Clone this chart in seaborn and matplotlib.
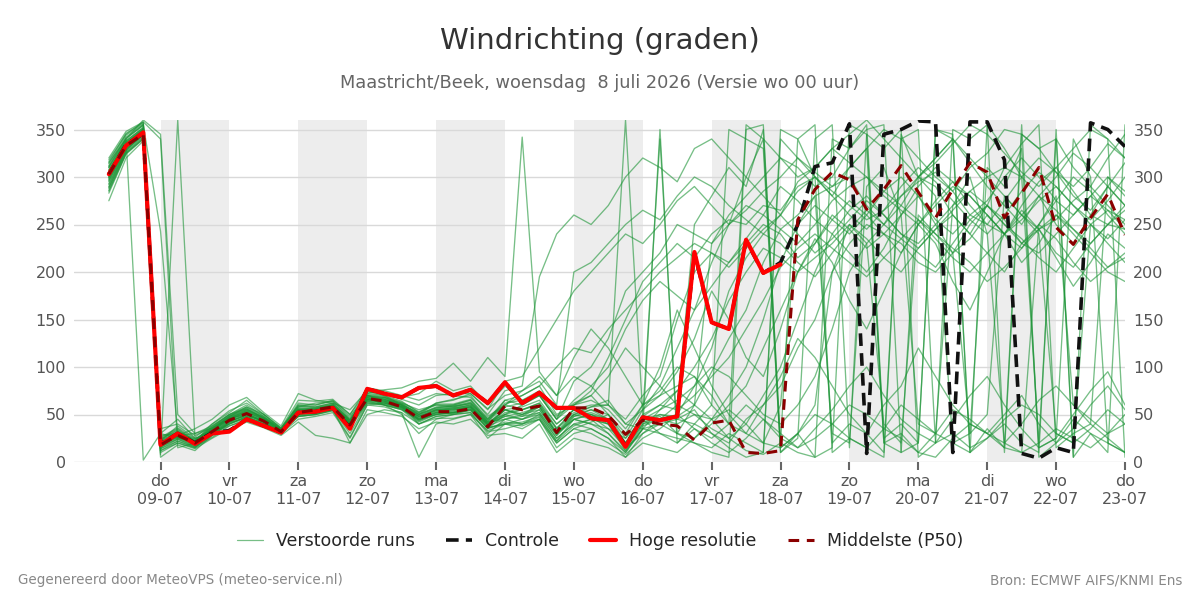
import matplotlib
matplotlib.use("Agg")
import matplotlib.pyplot as plt
from matplotlib.lines import Line2D
import pandas as pd
import seaborn as sns

# time axis: 6-hourly steps from wo 08-07 06 uur
start = "2026-07-08 06:00"
n_steps = 60

# Hoge resolutie (runs until 18-07 00 uur)
hoge_resolutie = [303, 333, 347, 18, 30, 19, 30, 32, 45, 38, 31, 52, 53, 57, 35, 77,
                  72, 68, 78, 80, 70, 76, 62, 84, 62, 73, 57, 57, 46, 44, 16, 47,
                  44, 48, 221, 147, 140, 234, 199, 208]

# Controle run
controle = [303, 334, 346, 19, 30, 20, 31, 33, 45, 38, 31, 52, 53, 57, 36, 77,
            72, 68, 78, 80, 70, 76, 62, 84, 62, 73, 57, 57, 46, 44, 17, 47,
            44, 48, 220, 147, 140, 233, 199, 210, 250, 311, 315, 356, 9, 345,
            350, 359, 358, 10, 358, 358, 318, 9, 4, 15, 10, 357, 350, 332]

# Middelste (P50)
p50 = [303, 333, 345, 18, 28, 20, 32, 44, 51, 43, 32, 52, 55, 58, 39, 67,
       64, 58, 46, 53, 53, 56, 37, 59, 55, 59, 31, 57, 57, 49, 29, 44,
       40, 38, 23, 41, 44, 10, 9, 12, 255, 287, 305, 297, 266, 287, 312, 284,
       257, 287, 315, 305, 257, 283, 310, 247, 229, 257, 282, 239]

# Verstoorde runs (perturbed ensemble members)
member_01 = [310, 338, 352, 25, 35, 22, 38, 50, 60, 48, 35, 60, 58, 62, 45, 70, 68, 62, 55, 60, 58, 62, 45,
             60, 55, 62, 40, 55, 50, 42, 20, 45, 50, 48, 60, 95, 130, 160, 210, 245, 260, 280, 290,
             300, 270, 250, 280, 300, 290, 260, 240, 270, 310, 300, 280, 250, 230, 260, 290, 270]
member_02 = [295, 330, 345, 12, 22, 15, 28, 40, 48, 40, 30, 55, 52, 55, 30, 62, 60, 55, 40, 48, 50, 52, 30,
             45, 40, 50, 25, 40, 45, 30, 10, 35, 30, 25, 20, 15, 30, 20, 10, 350, 340, 355, 10,
             25, 15, 5, 340, 350, 20, 30, 15, 25, 40, 20, 10, 350, 5, 30, 20, 10]
member_03 = [318, 345, 358, 340, 15, 20, 35, 48, 55, 46, 33, 48, 50, 55, 38, 72, 70, 60, 50, 58, 60, 65, 42,
             65, 70, 80, 50, 60, 75, 110, 150, 190, 210, 230, 215, 240, 255, 250, 270, 265, 290, 300, 285,
             270, 255, 265, 280, 295, 305, 285, 260, 250, 240, 270, 295, 310, 285, 260, 250, 265]
member_04 = [300, 335, 350, 30, 45, 25, 30, 38, 45, 38, 30, 45, 48, 52, 25, 60, 58, 52, 5, 40, 45, 50, 25,
             40, 35, 45, 15, 30, 35, 25, 5, 30, 40, 45, 55, 30, 20, 45, 60, 80, 120, 150, 200,
             230, 250, 240, 260, 280, 250, 220, 235, 260, 240, 210, 230, 260, 240, 220, 200, 190]
member_05 = [285, 325, 340, 8, 360, 26, 40, 52, 65, 50, 35, 62, 60, 65, 50, 78, 75, 70, 65, 72, 70, 68, 50,
             75, 80, 195, 240, 260, 250, 270, 300, 320, 310, 295, 330, 340, 320, 300, 280, 260, 295, 310, 330,
             315, 300, 285, 270, 300, 320, 340, 315, 290, 270, 250, 280, 300, 325, 310, 290, 270]
member_06 = [305, 340, 2, 30, 25, 18, 33, 45, 52, 42, 30, 52, 56, 60, 42, 66, 62, 58, 48, 55, 55, 58, 38,
             55, 48, 58, 30, 50, 58, 60, 45, 70, 90, 150, 200, 220, 210, 230, 250, 240, 215, 230, 260,
             245, 225, 240, 230, 210, 200, 220, 250, 270, 255, 230, 245, 220, 205, 230, 250, 245]
member_07 = [312, 342, 355, 243, 30, 22, 35, 46, 50, 44, 34, 55, 54, 57, 40, 68, 60, 50, 30, 45, 50, 55, 40,
             50, 60, 70, 45, 85, 100, 130, 180, 200, 220, 250, 240, 230, 260, 280, 300, 320, 310, 290, 300,
             330, 350, 355, 10, 20, 350, 340, 320, 300, 310, 335, 355, 15, 30, 40, 25, 10]
member_08 = [298, 332, 348, 15, 28, 35, 45, 60, 68, 52, 38, 72, 65, 62, 55, 75, 72, 68, 72, 85, 75, 80, 60,
             80, 65, 75, 55, 60, 70, 50, 30, 60, 70, 80, 90, 70, 40, 30, 60, 90, 130, 110, 80,
             50, 30, 60, 80, 120, 90, 60, 40, 30, 50, 70, 40, 20, 35, 60, 80, 55]
member_09 = [290, 328, 345, 10, 20, 14, 25, 35, 42, 36, 28, 42, 28, 25, 20, 55, 52, 48, 35, 42, 40, 45, 28,
             30, 25, 40, 10, 25, 20, 15, 5, 20, 15, 10, 25, 40, 60, 80, 120, 160, 200, 215, 230,
             250, 235, 215, 200, 225, 245, 260, 240, 220, 200, 230, 250, 235, 210, 190, 205, 220]
member_10 = [315, 340, 360, 345, 50, 30, 38, 50, 58, 50, 36, 58, 62, 64, 48, 70, 65, 60, 52, 62, 65, 72, 55,
             85, 90, 120, 150, 180, 200, 220, 240, 230, 250, 275, 290, 270, 250, 265, 285, 300, 320, 305, 290,
             310, 330, 350, 340, 320, 300, 285, 310, 325, 350, 345, 330, 305, 290, 310, 335, 320]
member_11 = [275, 320, 338, 20, 32, 20, 35, 46, 54, 45, 33, 50, 54, 58, 42, 64, 60, 55, 45, 50, 52, 54, 35,
             50, 45, 52, 28, 45, 50, 40, 15, 40, 45, 40, 50, 45, 25, 12, 8, 20, 10, 5, 15,
             355, 345, 20, 30, 10, 5, 25, 40, 30, 15, 10, 20, 35, 25, 15, 30, 40]
member_12 = [308, 336, 350, 22, 38, 25, 30, 40, 46, 40, 32, 55, 57, 60, 35, 72, 76, 78, 85, 88, 104, 85, 110,
             90, 342, 95, 70, 90, 80, 60, 40, 35, 55, 75, 60, 45, 70, 100, 150, 210, 250, 270, 255,
             240, 260, 285, 300, 280, 255, 240, 260, 275, 300, 320, 300, 275, 260, 280, 300, 285]
member_13 = [302, 334, 347, 5, 18, 12, 28, 42, 50, 42, 30, 50, 52, 56, 40, 65, 63, 58, 45, 52, 55, 58, 42,
             45, 50, 55, 30, 45, 40, 35, 15, 30, 45, 60, 50, 35, 25, 40, 70, 100, 150, 200, 240,
             265, 280, 260, 240, 230, 250, 270, 285, 300, 280, 260, 245, 255, 275, 290, 270, 250]
member_14 = [296, 330, 344, 35, 40, 28, 36, 45, 52, 45, 34, 58, 58, 62, 44, 70, 66, 60, 48, 55, 57, 60, 40,
             55, 50, 60, 35, 55, 60, 60, 360, 50, 340, 30, 60, 230, 250, 270, 260, 245, 230, 250, 275,
             290, 300, 280, 265, 250, 270, 290, 280, 260, 240, 225, 250, 275, 300, 285, 260, 240]
member_15 = [320, 348, 358, 18, 26, 18, 32, 44, 48, 40, 30, 48, 50, 54, 36, 62, 60, 56, 42, 50, 52, 55, 36,
             40, 45, 50, 25, 40, 35, 25, 10, 35, 40, 30, 25, 45, 55, 40, 20, 15, 30, 50, 40,
             25, 15, 35, 60, 45, 30, 20, 10, 25, 45, 60, 50, 30, 20, 35, 55, 40]
member_16 = [288, 326, 342, 16, 24, 16, 26, 38, 44, 40, 32, 52, 54, 56, 20, 50, 55, 52, 40, 48, 50, 52, 32,
             35, 40, 45, 20, 35, 30, 20, 8, 25, 35, 50, 80, 120, 180, 215, 240, 230, 210, 195, 220,
             245, 265, 250, 235, 220, 205, 230, 255, 270, 250, 235, 215, 200, 225, 250, 265, 255]
member_17 = [306, 338, 352, 24, 34, 22, 34, 48, 58, 48, 34, 60, 60, 64, 46, 74, 70, 64, 52, 60, 60, 65, 45,
             65, 60, 70, 45, 60, 65, 55, 35, 60, 75, 100, 90, 60, 40, 355, 340, 320, 300, 310, 330,
             345, 360, 340, 320, 300, 315, 335, 355, 345, 325, 305, 290, 310, 330, 350, 340, 320]
member_18 = [293, 328, 346, 12, 20, 15, 30, 42, 46, 42, 31, 50, 53, 57, 38, 66, 68, 60, 40, 46, 46, 50, 33,
             40, 42, 48, 22, 45, 50, 45, 20, 50, 60, 55, 70, 90, 110, 140, 170, 205, 225, 240, 225,
             210, 195, 215, 235, 255, 240, 225, 210, 190, 205, 225, 245, 260, 245, 225, 205, 215]
member_19 = [310, 340, 355, 28, 30, 22, 40, 54, 62, 50, 36, 65, 64, 66, 50, 74, 72, 66, 60, 70, 72, 72, 56,
             70, 75, 85, 60, 200, 210, 230, 250, 265, 255, 280, 300, 290, 270, 255, 240, 260, 285, 300, 280,
             260, 245, 265, 290, 310, 295, 275, 255, 240, 260, 285, 305, 290, 270, 255, 275, 300]
member_20 = [300, 333, 348, 18, 26, 20, 30, 40, 48, 44, 32, 48, 50, 54, 26, 60, 62, 58, 46, 52, 52, 56, 36,
             40, 38, 45, 20, 35, 42, 50, 25, 45, 30, 20, 35, 20, 10, 25, 45, 30, 15, 25, 40,
             60, 50, 35, 25, 10, 30, 55, 45, 30, 20, 40, 65, 80, 60, 45, 30, 50]
member_21 = [283, 324, 340, 22, 28, 30, 36, 50, 56, 46, 34, 56, 54, 60, 44, 68, 64, 58, 50, 62, 66, 70, 48,
             60, 70, 80, 100, 120, 115, 140, 160, 180, 200, 215, 230, 220, 205, 225, 245, 260, 240, 220, 235,
             255, 275, 260, 240, 225, 245, 265, 285, 270, 250, 230, 220, 240, 260, 280, 265, 245]
member_22 = [314, 344, 356, 14, 22, 16, 30, 44, 50, 42, 32, 52, 55, 58, 40, 68, 66, 60, 44, 50, 52, 56, 38,
             45, 48, 52, 28, 48, 55, 50, 20, 45, 55, 65, 80, 100, 90, 70, 50, 40, 60, 90, 140,
             200, 230, 250, 270, 255, 235, 215, 200, 220, 240, 260, 280, 265, 245, 230, 250, 270]
member_23 = [304, 336, 350, 20, 30, 20, 32, 46, 54, 46, 34, 56, 56, 60, 42, 70, 68, 62, 50, 56, 58, 62, 42,
             50, 55, 60, 35, 50, 45, 40, 15, 40, 50, 45, 40, 60, 350, 340, 330, 10, 25, 340, 355,
             15, 345, 330, 350, 5, 20, 350, 340, 355, 10, 345, 330, 340, 5, 355, 340, 5]
member_24 = [297, 331, 347, 26, 36, 24, 34, 46, 50, 44, 33, 54, 55, 58, 40, 66, 64, 58, 46, 54, 56, 58, 40,
             55, 50, 58, 32, 50, 55, 45, 18, 48, 60, 75, 100, 130, 170, 200, 225, 215, 200, 230, 255,
             275, 260, 240, 220, 250, 275, 295, 280, 260, 240, 255, 275, 290, 270, 250, 235, 255]
member_25 = [300, 334, 350, 20, 28, 18, 30, 42, 50, 42, 32, 50, 52, 56, 38, 64, 62, 56, 44, 52, 54, 58, 40,
             48, 52, 58, 30, 45, 40, 30, 12, 35, 350, 20, 40, 30, 15, 5, 10, 340, 320, 300, 20,
             40, 30, 10, 345, 300, 280, 20, 30, 310, 290, 330, 15, 25, 340, 300, 20, 10]
member_26 = [292, 329, 344, 16, 25, 22, 34, 47, 55, 47, 33, 57, 56, 59, 43, 69, 66, 61, 49, 57, 59, 63, 44,
             60, 75, 90, 70, 110, 140, 120, 90, 60, 100, 160, 120, 80, 50, 30, 20, 60, 250, 280, 30,
             20, 290, 310, 260, 40, 30, 270, 300, 240, 20, 10, 250, 280, 60, 40, 300, 280]
member_27 = [311, 341, 354, 22, 32, 24, 36, 48, 56, 46, 34, 54, 55, 59, 41, 67, 64, 59, 47, 54, 56, 60, 41,
             55, 58, 65, 40, 55, 48, 35, 25, 55, 80, 120, 160, 210, 250, 300, 340, 10, 30, 60, 200,
             250, 230, 40, 20, 260, 240, 220, 30, 50, 280, 260, 240, 30, 20, 250, 230, 210]
member_28 = [289, 327, 343, 14, 24, 17, 29, 41, 47, 41, 31, 49, 51, 55, 37, 63, 61, 57, 43, 51, 51, 55, 35,
             42, 40, 47, 22, 38, 45, 40, 12, 38, 45, 50, 35, 25, 40, 60, 45, 25, 15, 35, 55,
             80, 100, 70, 45, 30, 20, 45, 70, 90, 60, 35, 15, 25, 50, 75, 95, 60]
member_29 = [316, 346, 357, 24, 33, 21, 37, 49, 57, 47, 35, 59, 57, 61, 44, 71, 69, 63, 53, 61, 61, 66, 46,
             62, 65, 72, 48, 62, 70, 90, 120, 100, 80, 60, 250, 280, 310, 290, 350, 20, 340, 300, 280,
             310, 330, 20, 10, 300, 320, 340, 10, 355, 330, 300, 20, 340, 310, 290, 320, 345]
member_30 = [299, 333, 349, 21, 29, 19, 31, 43, 49, 43, 32, 51, 54, 57, 39, 65, 63, 57, 45, 53, 53, 57, 39,
             52, 55, 62, 36, 52, 58, 65, 40, 55, 70, 95, 130, 180, 150, 110, 90, 140, 200, 235, 210,
             170, 140, 180, 220, 250, 230, 190, 160, 200, 240, 265, 245, 215, 185, 210, 240, 225]
member_31 = [286, 325, 341, 18, 27, 21, 33, 45, 53, 44, 33, 53, 53, 58, 41, 66, 65, 59, 48, 55, 57, 59, 40,
             48, 45, 55, 30, 48, 52, 45, 20, 42, 48, 30, 20, 10, 5, 350, 355, 15, 30, 5, 340,
             330, 355, 25, 40, 20, 350, 345, 10, 35, 15, 355, 5, 20, 45, 30, 10, 355]
member_32 = [307, 337, 351, 23, 31, 23, 35, 47, 53, 45, 33, 55, 55, 59, 43, 69, 67, 61, 51, 57, 59, 61, 43,
             58, 62, 70, 45, 65, 80, 100, 140, 170, 190, 175, 160, 185, 210, 235, 260, 290, 275, 255, 240,
             220, 200, 225, 260, 290, 310, 295, 270, 250, 275, 300, 320, 305, 280, 265, 290, 315]

members = [member_01, member_02, member_03, member_04, member_05, member_06, member_07, member_08,
           member_09, member_10, member_11, member_12, member_13, member_14, member_15, member_16,
           member_17, member_18, member_19, member_20, member_21, member_22, member_23, member_24,
           member_25, member_26, member_27, member_28, member_29, member_30, member_31, member_32]

# labels
day_names = ["do", "vr", "za", "zo", "ma", "di", "wo", "do", "vr", "za", "zo", "ma", "di", "wo", "do"]
day_dates = ["09-07", "10-07", "11-07", "12-07", "13-07", "14-07", "15-07", "16-07",
             "17-07", "18-07", "19-07", "20-07", "21-07", "22-07", "23-07"]
y_ticks = [0, 50, 100, 150, 200, 250, 300, 350]

times = pd.date_range(start, periods=n_steps, freq="6h")

rows = []
for k, m in enumerate(members):
    for t, v in zip(times, m):
        rows.append({"tijd": t, "graden": v, "run": k})
ens = pd.DataFrame(rows)
hr = pd.DataFrame({"tijd": times[:len(hoge_resolutie)], "graden": hoge_resolutie})
ctl = pd.DataFrame({"tijd": times[:len(controle)], "graden": controle})
med = pd.DataFrame({"tijd": times[:len(p50)], "graden": p50})

sns.set_style("white")
plt.rcParams["font.family"] = ["DejaVu Sans"]

fig = plt.figure(figsize=(12, 6), dpi=100)
ax = fig.add_axes([0.062, 0.23, 0.8755, 0.57])

# shaded every other day
day_ts = pd.to_datetime([f"2026-{d[3:]}-{d[:2]}" for d in day_dates])
for d in day_ts[::2][:-1]:
    ax.axvspan(d, d + pd.Timedelta(days=1), color="#ededed", lw=0, zorder=0)

green = "#1c9436"
sns.lineplot(data=ens, x="tijd", y="graden", units="run", estimator=None,
             color=green, lw=0.95, alpha=0.6, ax=ax, zorder=2)
sns.lineplot(data=ctl, x="tijd", y="graden", color="#111111", lw=2.6, ax=ax, zorder=3)
ax.lines[-1].set_linestyle((0, (3.5, 2)))
sns.lineplot(data=hr, x="tijd", y="graden", color="#ff0000", lw=3, ax=ax, zorder=4)
sns.lineplot(data=med, x="tijd", y="graden", color="#8b0000", lw=2.2, ax=ax, zorder=5)
ax.lines[-1].set_linestyle((0, (3.5, 2.5)))

ax.set_xlim(pd.Timestamp("2026-07-07 18:00"), pd.Timestamp("2026-07-23 00:00"))
ax.set_ylim(0, 360)
ax.set_xticks(day_ts)
ax.set_xticklabels([f"{a}\n{b}" for a, b in zip(day_names, day_dates)])
ax.set_yticks(y_ticks)
ax.set_xlabel("")
ax.set_ylabel("")
ax.grid(axis="y", color="#d9d9d9", lw=1)
ax.grid(axis="x", visible=False)
for s in ax.spines.values():
    s.set_visible(False)
ax.tick_params(axis="x", length=6, width=1.5, color="#666666", labelcolor="#555555",
               labelsize=11.5, pad=3, bottom=True)
ax.tick_params(axis="y", length=0, labelcolor="#555555", labelsize=11.5,
               labelleft=True, labelright=True, pad=6)

fig.text(0.5, 0.932, "Windrichting (graden)", ha="center", va="center",
         fontsize=21, color="#333333")
fig.text(0.5, 0.862, "Maastricht/Beek, woensdag  8 juli 2026 (Versie wo 00 uur)",
         ha="center", va="center", fontsize=12.75, color="#666666")

handles = [
    Line2D([0], [0], color=green, lw=0.9, alpha=0.6),
    Line2D([0], [0], color="#111111", lw=2.6, linestyle=(0, (3.5, 2))),
    Line2D([0], [0], color="#ff0000", lw=3),
    Line2D([0], [0], color="#8b0000", lw=2.2, linestyle=(0, (3.5, 2.5))),
]
labels = ["Verstoorde runs", "Controle", "Hoge resolutie", "Middelste (P50)"]
fig.legend(handles, labels, loc="center", bbox_to_anchor=(0.5, 0.098), ncol=4,
           frameon=False, fontsize=12.5, handlelength=1.5, columnspacing=1.8,
           handletextpad=0.75)

fig.text(0.015, 0.033, "Gegenereerd door MeteoVPS (meteo-service.nl)", ha="left",
         va="center", fontsize=9.75, color="#888888")
fig.text(0.985, 0.033, "Bron: ECMWF AIFS/KNMI Ens", ha="right", va="center",
         fontsize=9.75, color="#888888")

fig.savefig("out.png", dpi=100)
